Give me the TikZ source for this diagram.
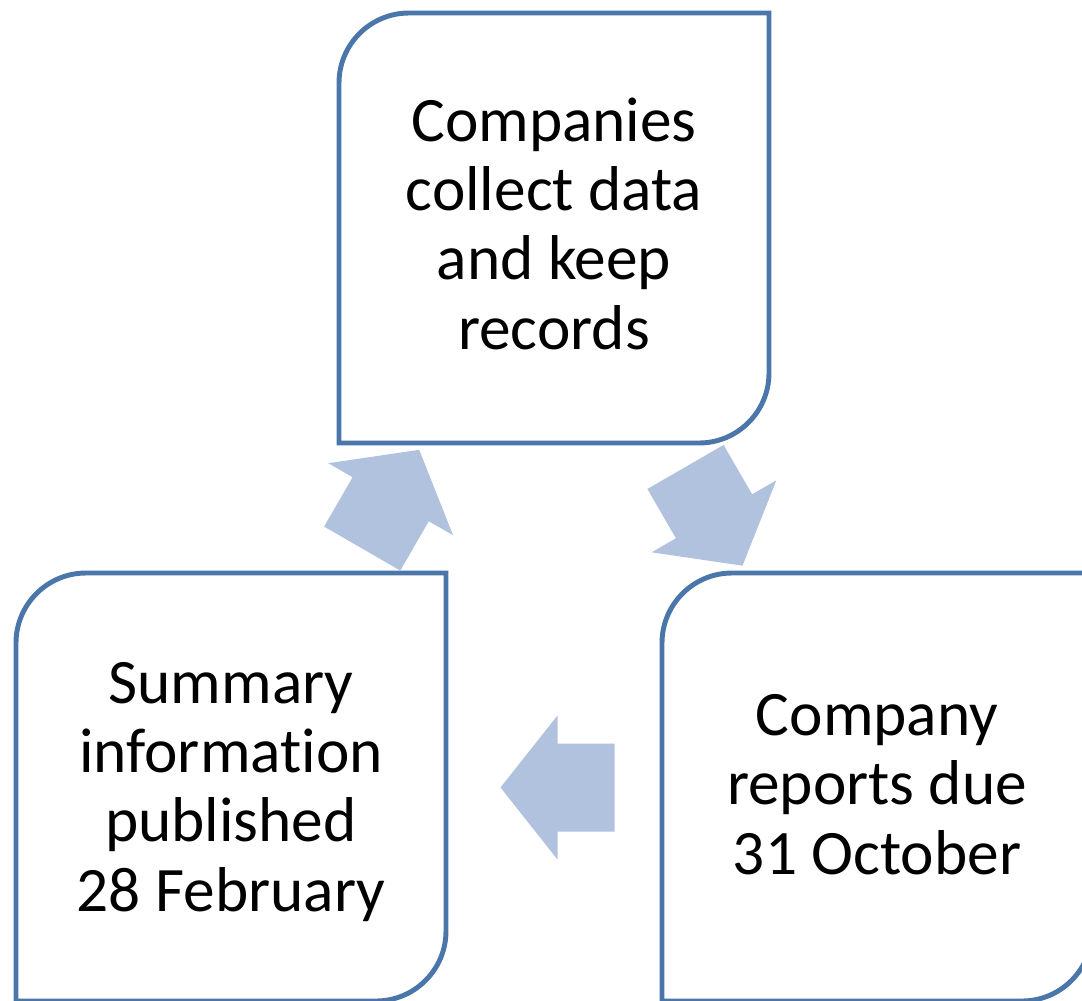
\documentclass[tikz,border=0pt]{standalone}
\usepackage{fontspec}
\setmainfont{Carlito}[Ligatures={NoCommon}]
\definecolor{boxblue}{HTML}{4A76AA}
\definecolor{arrowfill}{HTML}{B1C2DE}
\tikzset{
  boxline/.style={draw=boxblue,line width=3.7pt,fill=white},
  boxtext/.style={align=center,text=black,inner sep=0pt,anchor=base,font=\fontsize{47.5}{52}\selectfont},
  pics/blockarrow/.style={code={
    \fill[arrowfill] (-57,-44) -- (0,-44) -- (0,-72) -- (57,0) -- (0,72) -- (0,44) -- (-57,44) -- cycle;
  }}
}
\newcommand\saboxpath[4]{%
  \draw[boxline] (#1,#4) -- (#1,#2+70) arc[start angle=180,end angle=270,radius=70]
    -- (#3,#2) -- (#3,#4-70) arc[start angle=0,end angle=90,radius=70] -- cycle;}
\begin{document}
\begin{tikzpicture}[x=0.75pt,y=-0.75pt]
  \useasboundingbox (0,0) rectangle (1082,1000);
  \clip (0,0) rectangle (1082,1000);
  \fill[white] (0,0) rectangle (1082,1000);
  % boxes
  \saboxpath{339}{13}{769}{443}
  \saboxpath{16}{573}{446}{1001}
  \saboxpath{662}{573}{1092}{1001}
  % texts (anchored at the baseline of the last line)
  \node[boxtext] (collect) at (554,349) {Companies\\collect data\\and keep\\records};
  \node[boxtext] (summary) at (231,911) {Summary\\information\\published\\28 February};
  \node[boxtext] (reports) at (877,874) {Company\\reports due\\31 October};
  % arrows
  \pic[rotate=60] (upright) at (390.7,499.2) {blockarrow};
  \pic[rotate=-60] (downright) at (714,516.3) {blockarrow};
  \pic[rotate=180] (left) at (557.5,787.5) {blockarrow};
\end{tikzpicture}
\end{document}
